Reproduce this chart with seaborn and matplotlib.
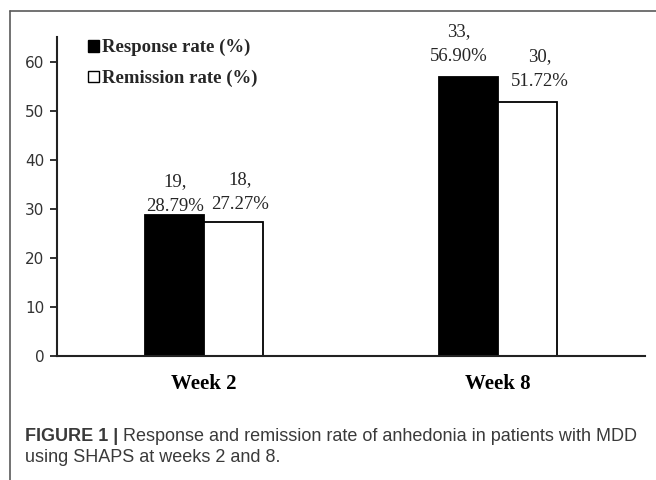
import matplotlib
matplotlib.use("Agg")
import matplotlib.pyplot as plt
from matplotlib.lines import Line2D
from matplotlib.patches import Patch
import seaborn as sns
import pandas as pd

# data
weeks = ["Week 2", "Week 8"]
measures = ["Response rate (%)", "Remission rate (%)"]
response_rate = [28.79, 56.90]
remission_rate = [27.27, 51.72]
response_n = [19, 33]
remission_n = [18, 30]
y_ticks = [0, 10, 20, 30, 40, 50, 60]

# manual nudges of the value labels (pixels), like the hand-placed Excel labels
label_dx = [[0, -10], [7, 12]]
label_dy = [[0, 12], [9, 12]]

df = pd.DataFrame({
    "week": weeks * 2,
    "measure": [measures[0]] * 2 + [measures[1]] * 2,
    "rate": response_rate + remission_rate,
})

sns.set_style("white")
serif = ["Liberation Serif", "DejaVu Serif"]
sans = ["Liberation Sans", "DejaVu Sans"]

fig = plt.figure(figsize=(6.56, 4.8), dpi=100)
ax = fig.add_axes([0.0869, 0.2583, 0.8963, 0.6646])

sns.barplot(data=df, x="week", y="rate", hue="measure", order=weeks,
            hue_order=measures, palette=["black", "white"], edgecolor="black",
            linewidth=1.3, width=0.4, gap=0, saturation=1, ax=ax, legend=False)

ax.set_xlim(-0.5, 1.5)
ax.set_ylim(0, 65)
ax.set_yticks(y_ticks)
ax.set_xlabel("")
ax.set_ylabel("")
sns.despine(ax=ax)
for s in ["left", "bottom"]:
    ax.spines[s].set_color("#222222")
    ax.spines[s].set_linewidth(1.5)

ax.tick_params(axis="y", length=5, width=1.3, color="#222222", pad=4,
               left=True)
ax.tick_params(axis="x", length=0, pad=13)
for lab in ax.get_yticklabels():
    lab.set_fontfamily(["DejaVu Sans"])
    lab.set_fontsize(11)
    lab.set_color("#333333")
for lab in ax.get_xticklabels():
    lab.set_fontfamily(serif)
    lab.set_fontsize(15)
    lab.set_fontweight("bold")
    lab.set_color("black")

# value labels "n,\npct%"
counts = [response_n, remission_n]
rates = [response_rate, remission_rate]
for h, cont in enumerate(ax.containers):
    for i, bar in enumerate(cont):
        x = bar.get_x() + bar.get_width() / 2
        y = bar.get_height()
        ax.annotate(f"{counts[h][i]},\n{rates[h][i]:.2f}%", xy=(x, y),
                    xytext=(label_dx[h][i], label_dy[h][i]),
                    textcoords="offset pixels", ha="center", va="bottom",
                    fontsize=13.5, family=serif, linespacing=1.6)

handles = [Patch(facecolor="black", edgecolor="black", linewidth=1.0),
           Patch(facecolor="white", edgecolor="black", linewidth=1.0)]
leg = ax.legend(handles, measures, loc="upper left",
                bbox_to_anchor=(0.04, 1.017), frameon=False,
                handlelength=0.58, handleheight=0.58, handletextpad=0.15,
                labelspacing=0.72, borderaxespad=0,
                prop={"family": serif, "weight": "bold", "size": 13.5})

# open frame around the panel
frame_kw = dict(color="#5a5a5a", linewidth=1.2, transform=fig.transFigure)
fig.add_artist(Line2D([0.0145, 0.0145], [0.0, 0.977], **frame_kw))
fig.add_artist(Line2D([0.0145, 1.0], [0.977, 0.977], **frame_kw))

# caption
cap_color = "#3a3a3a"
cap_size = 13.0
t1 = fig.text(0.0381, 0.08125, "FIGURE 1 |", fontsize=cap_size, family=sans,
              fontweight="bold", color=cap_color, va="baseline", ha="left")
ax.annotate(" Response and remission rate of anhedonia in patients with MDD",
            xy=(1, 0), xycoords=t1, va="bottom", ha="left", fontsize=cap_size,
            family=sans, color=cap_color, annotation_clip=False)
fig.text(0.0381, 0.0375, "using SHAPS at weeks 2 and 8.", fontsize=cap_size,
         family=sans, color=cap_color, va="baseline", ha="left")

fig.savefig("out.png", dpi=100)
